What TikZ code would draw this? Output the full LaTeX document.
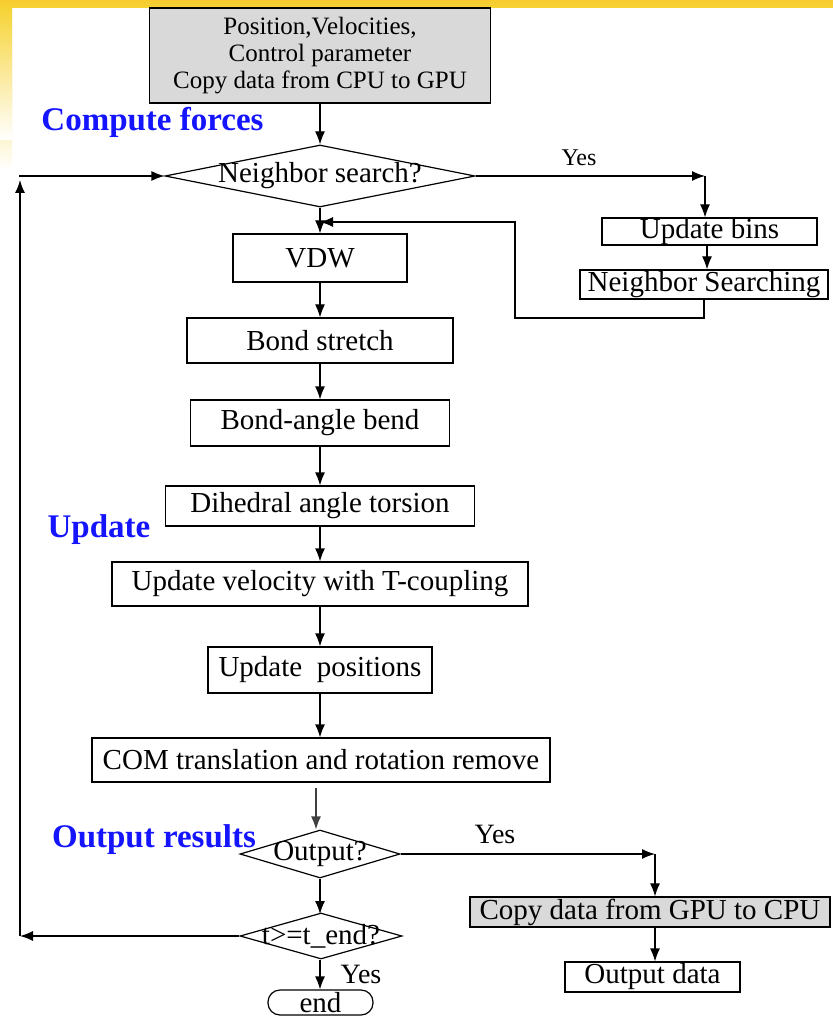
\documentclass[tikz,border=0pt]{standalone}
\usepackage{fontspec}
\setmainfont{Liberation Serif}
\usetikzlibrary{shapes.geometric,arrows.meta}
\definecolor{slideyellow}{HTML}{F6D335}
\definecolor{boxgray}{HTML}{D9D9D9}
\definecolor{lblblue}{HTML}{1414FF}
\begin{document}
\begin{tikzpicture}[x=0.5pt,y=-0.5pt,
  line width=0.6pt,
  >={Latex[length=6.5pt,width=5pt]},
  fnt/.style={font=\fontsize{14.5}{17}\selectfont},
  procbox/.style={draw, rectangle, inner sep=0pt, fnt},
  decbox/.style={draw, diamond, inner sep=0pt},
  bluelbl/.style={text=lblblue, font=\fontsize{16.5}{19}\selectfont\bfseries, inner sep=0pt},
  yeslbl/.style={inner sep=0pt, font=\fontsize{14}{16}\selectfont}
]
\useasboundingbox (0,0) rectangle (833,1021);
% slide background
\fill[white] (0,0) rectangle (833,1021);
\shade[top color=white, bottom color=white, middle color=slideyellow!60] (0,0) rectangle (12,170);
\shade[top color=slideyellow, bottom color=white] (0,7) rectangle (12,140);
\shade[top color=slideyellow!90!orange, bottom color=slideyellow] (0,0) rectangle (833,8);

% main column
\node[procbox, fill=boxgray, minimum width=170.5pt, minimum height=47.5pt, align=center,
      font=\fontsize{12.5}{13.5}\selectfont] (top) at (320,55.5)
      {Position,Velocities,\\Control parameter\\Copy data from CPU to GPU};
\node[decbox, minimum width=155pt, minimum height=31pt] (ns) at (320,176) {};
\node[fnt, inner sep=0pt] (nst) at (ns) {Neighbor search?};
\node[procbox, minimum width=87pt, minimum height=24pt] (vdw) at (320,258) {VDW};
\node[procbox, minimum width=133pt, minimum height=22.5pt] (bs) at (320,340.5) {Bond stretch};
\node[procbox, minimum width=129.5pt, minimum height=23pt] (bab) at (320,423) {Bond-angle bend};
\node[procbox, minimum width=154.5pt, minimum height=20pt] (dih) at (320,506) {Dihedral angle torsion};
\node[procbox, minimum width=208pt, minimum height=22pt] (uv) at (320,584) {Update velocity with T-coupling};
\node[procbox, minimum width=112pt, minimum height=23pt] (up) at (320,670) {Update~ positions};
\node[procbox, minimum width=229pt, minimum height=22pt] (com) at (321,760) {COM translation and rotation remove};
\node[decbox, minimum width=80pt, minimum height=24pt] (out) at (320,854) {};
\node[fnt, inner sep=0pt] (outt) at (out) {Output?};
\node[decbox, minimum width=81pt, minimum height=23pt] (tend) at (321,936) {};
\node[fnt, inner sep=0pt] (tendt) at (tend) {t>=t\_end?};
\node[procbox, rounded corners=6pt, minimum width=52.5pt, minimum height=12.5pt] (end) at (320.5,1002.5) {end};

% right column
\node[procbox, minimum width=107.5pt, minimum height=13.5pt] (ub) at (709.5,231.5) {Update bins};
\node[procbox, minimum width=124pt, minimum height=14.5pt] (nsr) at (704,284.5) {Neighbor Searching};
\node[procbox, fill=boxgray, minimum width=180pt, minimum height=15pt] (cp) at (650,912) {Copy data from GPU to CPU};
\node[procbox, minimum width=87.5pt, minimum height=15pt] (od) at (652.5,977) {Output data};

% labels
\node[bluelbl] (lcf) at (152.5,122) {Compute forces};
\node[bluelbl] (lup) at (99,530) {Update};
\node[bluelbl] (lor) at (154,840) {Output results};
\node[yeslbl, font=\fontsize{12}{14}\selectfont] (y1) at (579,158) {Yes};
\node[yeslbl] (y2) at (495,834) {Yes};
\node[yeslbl] (y3) at (361,974) {Yes};

% coordinates
\coordinate (c1) at (705,176);
\coordinate (c2) at (515,318);
\coordinate (m1) at (320,222);
\coordinate (c3) at (655,854);
\coordinate (c4) at (20,936);
\coordinate (c5) at (20,180);
\coordinate (c6) at (19,176);
\coordinate (k1) at (316,788);
\coordinate (k2) at (320,914);

% connectors
\draw[->] (top.south) -- (ns.north);
\draw[->] (ns.south) -- (vdw.north);
\draw[->] (vdw.south) -- (bs.north);
\draw[->] (bs.south) -- (bab.north);
\draw[->] (bab.south) -- (dih.north);
\draw[->] (dih.south) -- (uv.north);
\draw[->] (uv.south) -- (up.north);
\draw[->] (up.south) -- (up.south |- com.north);
\draw[->, black!75] (k1) -- (k1 |- out.north);
\draw[->] (out.south) -- (k2);
\draw[->] (tend.south -| out.south) -- (end.north -| out.south);

\draw[->] (ns.east) -- (c1);
\draw[->] (c1) -- (c1 |- ub.north);
\draw[->] ([xshift=1pt]c1 |- ub.south) -- ([xshift=1pt]c1 |- nsr.north);
\draw[->] (nsr.south) |- (c2) |- (m1);

\draw[->] (out.east) -- (c3);
\draw[->] (c3) -- (c3 |- cp.north);
\draw[->] (c3 |- cp.south) -- (c3 |- od.north);

\draw[->] (tend.west) -- (c4);
\draw[->] (c4) -- (c5);
\draw[->] (c6) -- (ns.west);
\end{tikzpicture}
\end{document}
